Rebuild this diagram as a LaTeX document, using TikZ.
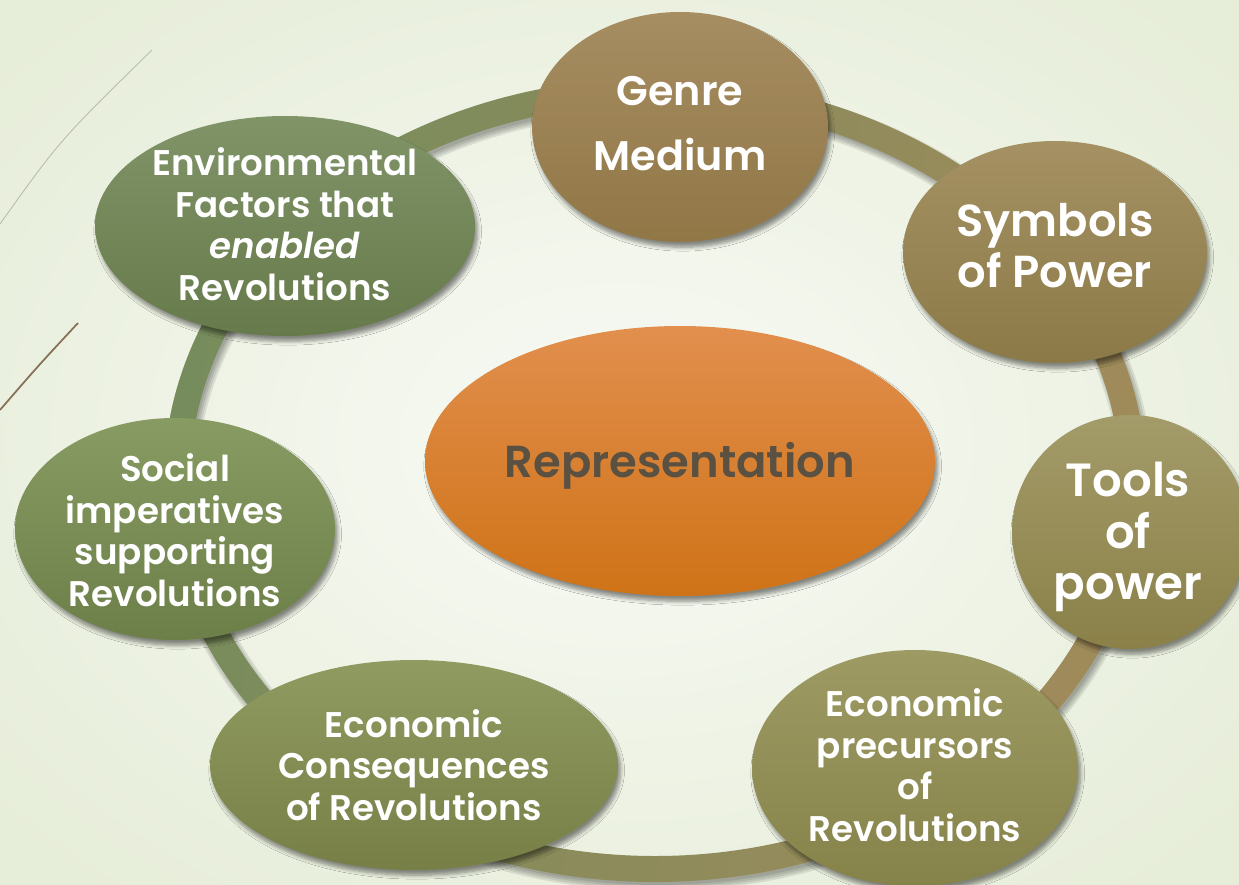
\documentclass[tikz,border=0pt]{standalone}
\usepackage{fontspec}
\setmainfont{Poppins}[BoldFont={* SemiBold}, BoldItalicFont={* SemiBold Italic}]
\usetikzlibrary{shapes.geometric,shadows.blur}
\definecolor{bgin}{HTML}{F8FAF5}
\definecolor{bgout}{HTML}{E6EDD8}
\definecolor{ringL}{HTML}{778C5C}
\definecolor{ringR}{HTML}{A08A5A}
\definecolor{repTxt}{HTML}{5A5142}
\definecolor{gT}{HTML}{A68D62}\definecolor{gB}{HTML}{917746}
\definecolor{sT}{HTML}{A59163}\definecolor{sB}{HTML}{8B7A48}
\definecolor{tT}{HTML}{A39B69}\definecolor{tB}{HTML}{8A8048}
\definecolor{pT}{HTML}{9D9B63}\definecolor{pB}{HTML}{85824A}
\definecolor{cT}{HTML}{8F9B61}\definecolor{cB}{HTML}{777F46}
\definecolor{oT}{HTML}{889B63}\definecolor{oB}{HTML}{6D7F48}
\definecolor{eT}{HTML}{819468}\definecolor{eB}{HTML}{677A4B}
\definecolor{rT}{HTML}{E28F4E}\definecolor{rB}{HTML}{CF7317}
\tikzset{
  shd/.style={blur shadow={shadow xshift=1.5pt, shadow yshift=-3pt, shadow blur steps=6, shadow opacity=45}},
  bub/.style n args={4}{ellipse, shd, draw=none, inner sep=0pt,
     top color=#1, bottom color=#2,
     minimum width=#3*0.4mm, minimum height=#4*0.4mm},
  txt/.style={text=white, align=center, inner sep=0pt},
  f20/.style={font=\fontsize{20.3}{23.6}\selectfont\bfseries},
  ringshd/.style={draw=black, opacity=0.09},
}
\begin{document}
\begin{tikzpicture}[x=0.2mm,y=-0.2mm]
\useasboundingbox (0,0) rectangle (1239,885);
\clip (0,0) rectangle (1239,885);
% background
\shade[inner color=bgin, outer color=bgout] (-200,-150) rectangle (1439,1035);
% decorative lines
\draw[color=black!20!bgout, line width=0.5pt] (0,224) .. controls (60,140) .. (152,50);
\draw[color=brown!50!black!75, line width=1pt] (0,410) .. controls (38,366) .. (78,323);
% ring shadow
\draw[ringshd, line width=34*0.2mm] (658,485) ellipse [x radius=478, y radius=389];
\draw[ringshd, line width=30*0.2mm] (658,485) ellipse [x radius=478, y radius=389];
\draw[ringshd, line width=26*0.2mm] (658,485) ellipse [x radius=478, y radius=389];
\draw[ringshd, line width=22*0.2mm] (658,485) ellipse [x radius=478, y radius=389];
% ring
\path[even odd rule, left color=ringL, right color=ringR, shading angle=80]
  (655,480) ellipse [x radius=491, y radius=402]
  (655,480) ellipse [x radius=465, y radius=376];
% satellites
\node[bub={gT}{gB}{148}{115}] (genre) at (680,127) {};
\node[bub={sT}{sB}{152}{111}] (sym)   at (1055,252) {};
\node[bub={tT}{tB}{118}{117}] (tools) at (1130,532) {};
\node[bub={pT}{pB}{163}{118}] (prec)  at (915,768) {};
\node[bub={cT}{cB}{204}{105}] (cons)  at (414,765) {};
\node[bub={oT}{oB}{160}{111}] (soc)   at (175,529) {};
\node[bub={eT}{eB}{190}{110}] (env)   at (285,226) {};
\node[bub={rT}{rB}{255}{135}] (rep)   at (680,461) {};
% texts
\node[txt, font=\fontsize{23.5}{36.9}\selectfont\bfseries] (tgenre) at (680,124) {Genre\\Medium};
\node[txt, font=\fontsize{25.5}{29}\selectfont\bfseries] (tsym) at (1055,246) {Symbols\\of Power};
\node[txt, font=\fontsize{26.5}{29.5}\selectfont\bfseries] (ttools) at (1128,537) {Tools\\of\\power};
\node[txt, f20] (tprec) at (915,765) {Economic\\precursors\\of\\Revolutions};
\node[txt, f20] (tcons) at (414,765) {Economic\\Consequences\\of Revolutions};
\node[txt, f20] (tsoc) at (175,530) {Social\\imperatives\\supporting\\Revolutions};
\node[txt, f20] (tenv) at (285,224) {Environmental\\Factors that\\\textit{enabled}\\Revolutions};
\node[txt, text=repTxt, font=\fontsize{25.5}{30}\selectfont\bfseries] (trep) at (680,466) {Representation};
\end{tikzpicture}
\end{document}
